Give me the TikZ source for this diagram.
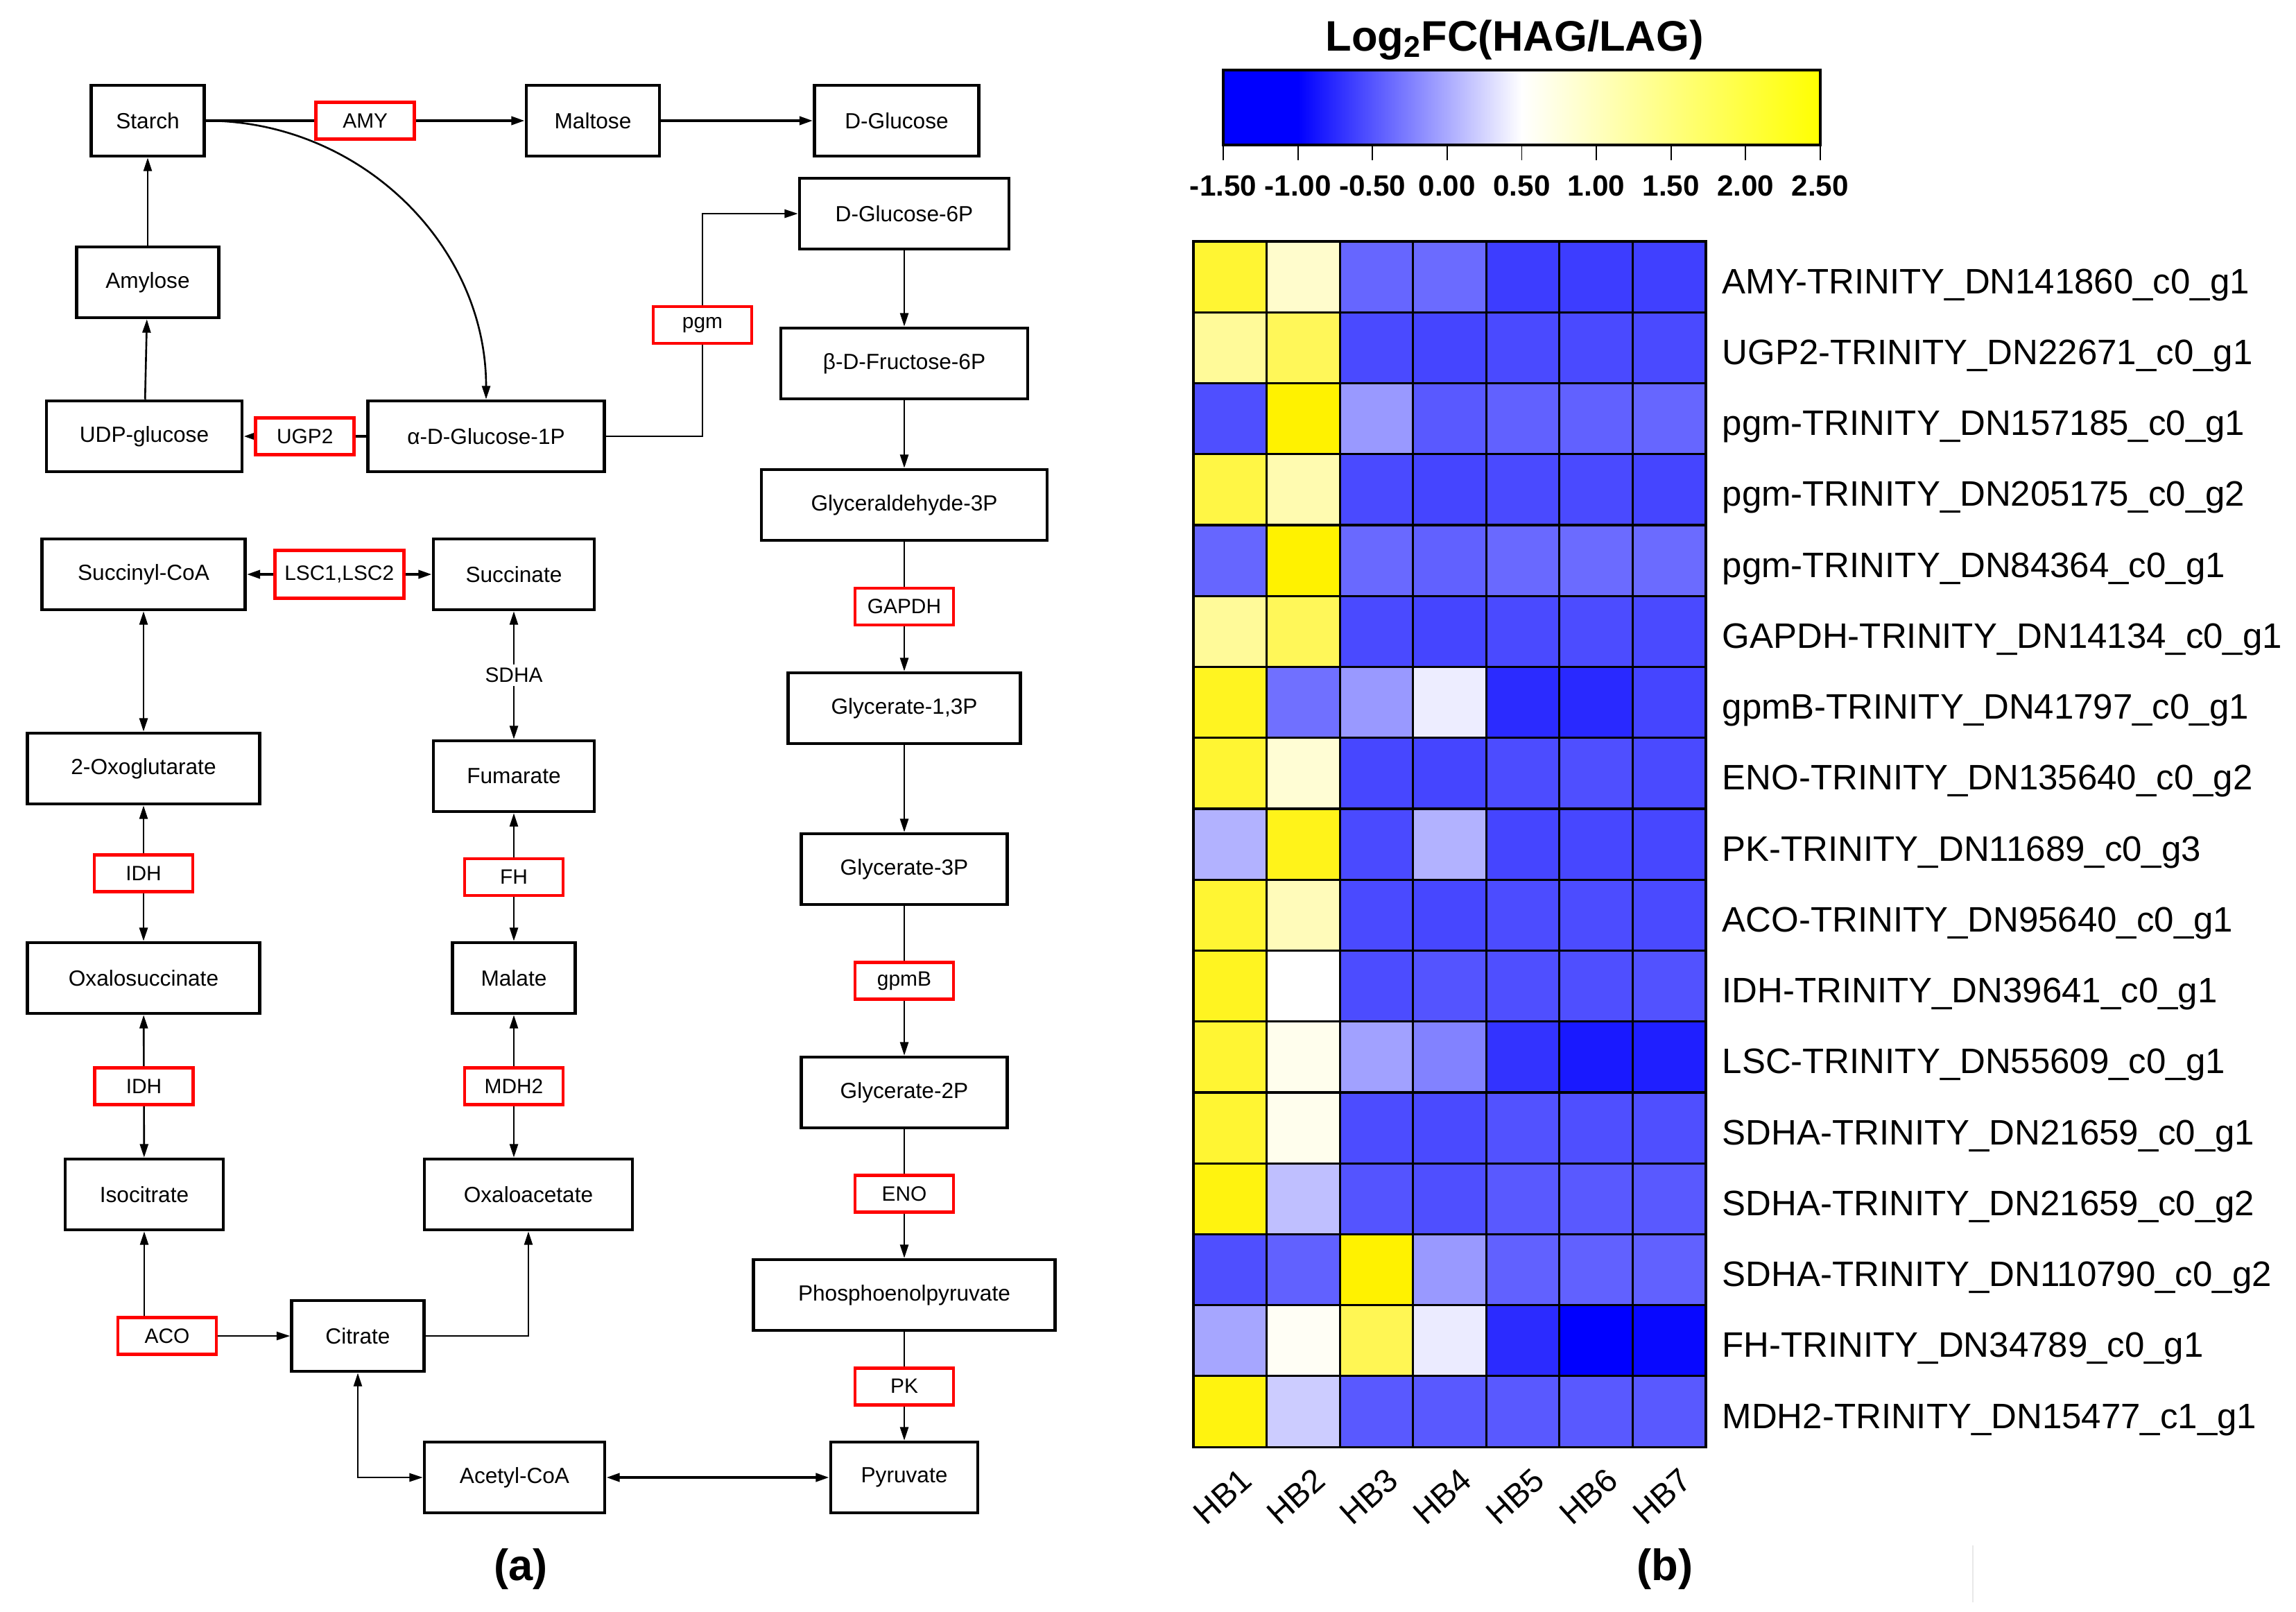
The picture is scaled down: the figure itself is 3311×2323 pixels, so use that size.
\documentclass[tikz,border=0pt]{standalone}
\usepackage{fontspec}
\setmainfont{Liberation Sans}
\usetikzlibrary{arrows.meta, calc, positioning}

\begin{document}
\begin{tikzpicture}[x=0.1mm, y=-0.1mm,
    >={Triangle[length=5.5pt, width=3.4pt]},
    met/.style={draw, line width=1.3pt, minimum height=10.2mm, minimum width=#1, inner sep=0pt, font=\fontsize{9}{10}\selectfont},
    met/.default=20mm,
    enz/.style={draw=red, line width=1.4pt, fill=white, minimum width=14.2mm, minimum height=5.3mm, inner sep=1pt, font=\fontsize{8.5}{9}\selectfont},
    gap/.style={fill=white, inner sep=1.5pt, font=\fontsize{8.5}{9}\selectfont},
    link/.style={line width=0.75pt},
    hlink/.style={line width=1.1pt},
    cellgrid/.style={draw=black, line width=0.9pt},
    rowlab/.style={anchor=base west, inner sep=0pt, font=\fontsize{14.5}{16}\selectfont},
    collab/.style={anchor=east, rotate=42, inner sep=0pt, font=\fontsize{13.5}{15}\selectfont},
    keylab/.style={anchor=north, inner sep=0pt, font=\bfseries\fontsize{12}{14}\selectfont},
    panel/.style={font=\bfseries\fontsize{18}{20}\selectfont}]
    \useasboundingbox[fill=white] (0,0) rectangle (3311,2323);

    % Starch and sucrose
    \node[met=16.3mm] (starch) at (213,174) {Starch};
    \node[met=19.2mm] (maltose) at (855,174) {Maltose};
    \node[met=23.7mm] (dglc) at (1293,174) {D-Glucose};
    \node[met=20.5mm] (amylose) at (213,407) {Amylose};
    \node[met=28.2mm] (udpg) at (208,629) {UDP-glucose};
    \node[met=34.1mm] (adg1p) at (701,629) {α-D-Glucose-1P};

    % Glycolysis
    \node[met=30.2mm] (dg6p) at (1304,308) {D-Glucose-6P};
    \node[met=35.6mm] (f6p) at (1304,524) {β-D-Fructose-6P};
    \node[met=41.2mm] (g3p) at (1304,728) {Glyceraldehyde-3P};
    \node[met=33.5mm] (g13p) at (1304,1021) {Glycerate-1,3P};
    \node[met=29.7mm] (g3pa) at (1304,1253) {Glycerate-3P};
    \node[met=29.7mm] (g2p) at (1304,1575) {Glycerate-2P};
    \node[met=43.5mm] (pep) at (1304,1867) {Phosphoenolpyruvate};
    \node[met=21.2mm] (pyr) at (1304,2130) {Pyruvate};

    % TCA cycle
    \node[met=29.3mm] (scoa) at (207,828) {Succinyl-CoA};
    \node[met=23.2mm] (succ) at (741,828) {Succinate};
    \node[met=33.5mm] (oxg) at (207,1108) {2-Oxoglutarate};
    \node[met=23.2mm] (fum) at (741,1119) {Fumarate};
    \node[met=33.5mm] (oxs) at (207,1410) {Oxalosuccinate};
    \node[met=17.7mm] (mal) at (741,1410) {Malate};
    \node[met=22.8mm] (isocit) at (208,1722) {Isocitrate};
    \node[met=30.0mm] (oxac) at (762,1722) {Oxaloacetate};
    \node[met=19.1mm] (cit) at (516,1926) {Citrate};
    \node[met=26.0mm] (acoa) at (742,2130) {Acetyl-CoA};

    % Reactions
    \draw[link, ->] (amylose) -- (starch);
    \draw[link, ->] (udpg) -- (amylose);
    \draw[hlink, ->] (adg1p) -- node[enz] (ugp) {UGP2} (udpg);
    \draw[hlink, ->] (starch) -- node[enz] (amy) {AMY} (maltose);
    \draw[hlink, ->] (maltose) -- (dglc);
    \draw[link, ->] (starch.east) to[out=0, in=90] (adg1p.north);
    \coordinate (pgmbend) at (1013,629);
    \draw[link, ->] (adg1p) -- (pgmbend) |- node[enz, pos=.25] (pgm) {pgm} (dg6p);

    \draw[link, ->] (dg6p) -- (f6p);
    \draw[link, ->] (f6p) -- (g3p);
    \draw[link, ->] (g3p) -- node[enz] (gapdh) {GAPDH} (g13p);
    \draw[link, ->] (g13p) -- (g3pa);
    \draw[link, ->] (g3pa) -- node[enz] (gpmb) {gpmB} (g2p);
    \draw[link, ->] (g2p) -- node[enz] (eno) {ENO} (pep);
    \draw[link, ->] (pep) -- node[enz] (pk) {PK} (pyr);

    \draw[hlink, <->] (acoa) -- (pyr);
    \draw[link, <->] (cit) |- (acoa);
    \draw[link, ->] (cit) -| (oxac);
    \draw[link, <->] (isocit) |- (cit);
    \node[enz] (aco) at (241,1926) {ACO};

    \draw[hlink, <->] (scoa) -- node[enz, minimum width=18.6mm, minimum height=6.9mm] (lsc) {LSC1,LSC2} (succ);
    \draw[link, <->] (scoa) -- (oxg);
    \draw[link, <->] (succ) -- node[gap] (sdha) {SDHA} (fum);
    \draw[link, <->] (fum) -- node[enz] (fh) {FH} (mal);
    \draw[link, <->] (oxg) -- node[enz] (idha) {IDH} (oxs);
    \draw[link, <->] (oxs) -- node[enz] (idhb) {IDH} (isocit);
    \draw[link, <->] (mal) -- node[enz] (mdh) {MDH2} (mal |- oxac.north);

    \node[panel] (capa) at (751,2262) {(a)};

    % Colour key
    \fill[blue] (1764,101) rectangle (1871.6,209);
    \shade[left color=blue, right color=white] (1871.6,101) rectangle (2194.5,209);
    \shade[left color=white, right color=yellow] (2194.5,101) rectangle (2625,209);
    \draw[line width=1.1pt] (1764,101) rectangle (2625,209);
    \foreach \t [count=\k from 0] in {-1.50,-1.00,-0.50,0.00,0.50,1.00,1.50,2.00,2.50}
    {
    \draw[line width=0.5pt] ({1764+\k*107.6},211) -- ++(0,20) node[keylab, below=6pt] {\t};
    }
    \node[font=\bfseries\fontsize{17.5}{20}\selectfont] (keytitle) at (2184,58) {Log\textsubscript{2}FC(HAG/LAG)};

    % Heatmap
    \pgfmathsetmacro{\cw}{105.57}
    \pgfmathsetmacro{\ch}{102.24}
    \foreach \vals [count=\r] in {{80,20,-60,-58,-76,-76,-75},{40,65,-71,-73,-71,-71,-71},
        {-69,100,-40,-65,-62,-62,-60},{73,31,-71,-73,-71,-71,-73},{-60,100,-59,-62,-59,-58,-58},
        {40,65,-71,-73,-71,-70,-71},{87,-56,-40,-7,-83,-84,-73},{80,17,-72,-73,-70,-69,-71},
        {-30,90,-71,-30,-73,-72,-72},{80,27,-71,-72,-70,-70,-71},{87,0,-70,-67,-69,-69,-68},
        {80,7,-37,-49,-80,-90,-88},{80,7,-70,-71,-68,-69,-69},{94,-25,-67,-69,-65,-65,-65},
        {-69,-62,100,-40,-62,-62,-62},{-35,4,67,-8,-83,-100,-97},{94,-20,-65,-65,-65,-65,-65}}
    {
    \foreach \v [count=\c] in \vals
    {
    \pgfmathtruncatemacro{\a}{abs(\v)}
    \ifnum\v<0 \colorlet{cellcol}{blue!\a!white}\else\colorlet{cellcol}{yellow!\a!white}\fi
    \draw[cellgrid, fill=cellcol] ({1721+(\c-1)*\cw},{348+(\r-1)*\ch}) rectangle ++(\cw,\ch);
    }
    }
    \draw[cellgrid] (1721,348) rectangle ({1721+7*\cw},{348+17*\ch});

    % Gene labels
    \foreach \lab [count=\r] in {AMY-TRINITY\_DN141860\_c0\_g1,UGP2-TRINITY\_DN22671\_c0\_g1,
        pgm-TRINITY\_DN157185\_c0\_g1,pgm-TRINITY\_DN205175\_c0\_g2,pgm-TRINITY\_DN84364\_c0\_g1,
        GAPDH-TRINITY\_DN14134\_c0\_g1,gpmB-TRINITY\_DN41797\_c0\_g1,ENO-TRINITY\_DN135640\_c0\_g2,
        PK-TRINITY\_DN11689\_c0\_g3,ACO-TRINITY\_DN95640\_c0\_g1,IDH-TRINITY\_DN39641\_c0\_g1,
        LSC-TRINITY\_DN55609\_c0\_g1,SDHA-TRINITY\_DN21659\_c0\_g1,SDHA-TRINITY\_DN21659\_c0\_g2,
        SDHA-TRINITY\_DN110790\_c0\_g2,FH-TRINITY\_DN34789\_c0\_g1,MDH2-TRINITY\_DN15477\_c1\_g1}
    \node[rowlab] (gene\r) at (2483,{348+(\r-0.5)*\ch+24}) {\lab};

    % Sample labels
    \foreach \i in {1,...,7}
    \node[collab] (hb\i) at ({1721+(\i-0.5)*\cw+24},2126) {HB\i};

    \node[panel] (capb) at (2401,2262) {(b)};

    % faint rule near the bottom edge
    \draw[gray!18, line width=0.8pt] (2845,2228) -- (2845,2310);

\end{tikzpicture}
\end{document}
